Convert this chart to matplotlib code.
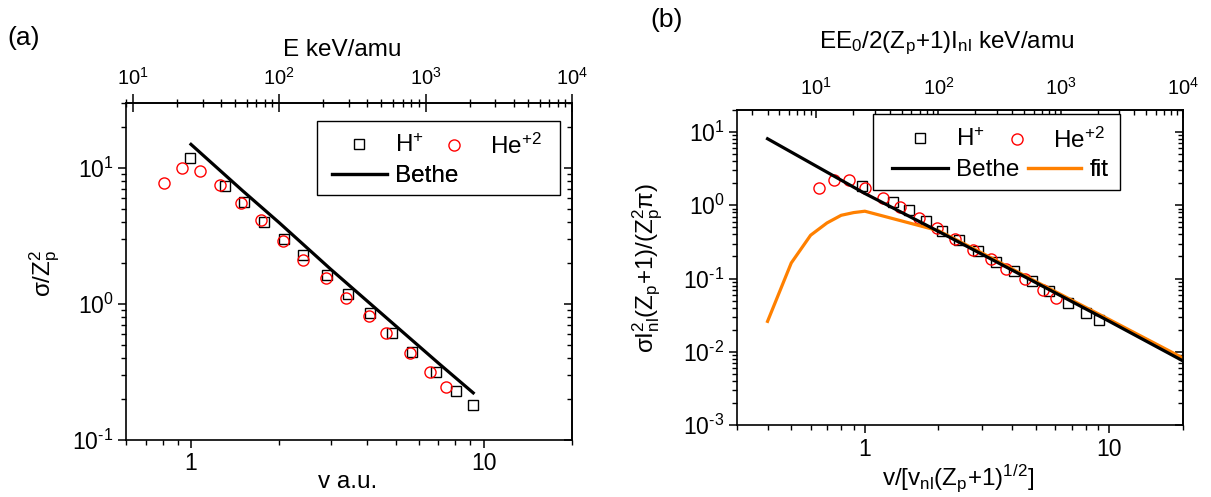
import matplotlib
matplotlib.use('Agg')
import matplotlib.pyplot as plt
import matplotlib.ticker as mt
from matplotlib.patches import Rectangle
import numpy as np

plt.rcParams['font.family'] = ['Liberation Sans', 'DejaVu Sans']
plt.rcParams['mathtext.fontset'] = 'custom'
plt.rcParams['mathtext.rm'] = 'Liberation Sans'
plt.rcParams['mathtext.it'] = 'Liberation Sans'
plt.rcParams['mathtext.bf'] = 'Liberation Sans:bold'
plt.rcParams['mathtext.default'] = 'regular'
plt.rcParams['axes.unicode_minus'] = False

# ---------------- data: panel (a) ----------------
a_h_v = [0.99, 1.31, 1.52, 1.78, 2.07, 2.42, 2.91, 3.44, 4.07, 4.87, 5.70, 6.89, 8.06, 9.15]
a_h_y = [11.9, 7.37, 5.65, 4.03, 2.99, 2.28, 1.63, 1.18, 0.863, 0.609, 0.441, 0.318, 0.229, 0.180]
a_he_v = [0.81, 0.93, 1.07, 1.26, 1.48, 1.73, 2.06, 2.42, 2.89, 3.39, 4.04, 4.64, 5.58, 6.53, 7.45]
a_he_y = [7.8, 9.95, 9.55, 7.5, 5.56, 4.15, 2.91, 2.11, 1.55, 1.11, 0.81, 0.615, 0.434, 0.315, 0.245]
a_bethe_v = [1.0, 1.5, 2.0, 3.0, 5.0, 7.0, 9.2]
a_bethe_y = [14.9, 6.8, 3.96, 1.8, 0.69, 0.367, 0.222]

# ---------------- data: panel (b) ----------------
b_h_x = [0.975, 1.30, 1.51, 1.78, 2.07, 2.42, 2.90, 3.45, 4.06, 4.81, 5.68, 6.80, 8.02, 9.10]
b_h_y = [1.83, 1.11, 0.855, 0.611, 0.447, 0.34, 0.238, 0.169, 0.126, 0.092, 0.0678, 0.047, 0.034, 0.027]
b_he_x = [0.651, 0.745, 0.865, 1.006, 1.186, 1.393, 1.668, 1.966, 2.34, 2.77, 3.29, 3.77, 4.51, 5.37, 6.05]
b_he_y = [1.74, 2.24, 2.19, 1.72, 1.27, 0.948, 0.671, 0.49, 0.351, 0.248, 0.182, 0.137, 0.097, 0.069, 0.055]
b_bethe_x = [0.4, 1.0, 2.0, 5.0, 10.0, 20.0]
b_bethe_y = [8.1, 1.45, 0.44, 0.088, 0.026, 0.0075]
b_fit_x = [0.4, 0.5, 0.6, 0.7, 0.8, 0.9, 1.0, 2.0, 3.0, 5.0, 10.0, 20.0]
b_fit_y = [0.026, 0.163, 0.39, 0.574, 0.73, 0.795, 0.83, 0.45, 0.225, 0.091, 0.0275, 0.0082]

bottom_ticks = [1, 10]
top_ticks = [1e1, 1e2, 1e3, 1e4]

W, H = 1211, 497
fig = plt.figure(figsize=(W / 100, H / 100), dpi=100)


def rect(l, t, r, b):
    return [l / W, 1 - b / H, (r - l) / W, (b - t) / H]


def fwd(v):
    return 25.0 * np.asarray(v) ** 2


def inv(E):
    return np.sqrt(np.clip(np.asarray(E, dtype=float), 1e-12, None) / 25.0)


def ident(y):
    return y


def pow10_fmt(v, pos):
    e = int(round(np.log10(v)))
    if e < 0:
        return r'$\mathregular{10^{\text{-}%d}}$' % (-e)
    return r'$\mathregular{10^{%d}}$' % e


axa = fig.add_axes(rect(126, 103, 572, 440))
axb = fig.add_axes(rect(737, 110, 1183, 425))

FS_TICK = 16.5
FS_TOP = 14.5
FS_LAB = 17.5
FS_LEG = 17.5

for ax in (axa, axb):
    ax.set_xscale('log')
    ax.set_yscale('log')
    for s in ax.spines.values():
        s.set_linewidth(1.2)
    ax.tick_params(which='both', direction='out', top=False, right=False, labelsize=FS_TICK)
    ax.tick_params(which='major', length=6, width=1.1, pad=3)
    ax.tick_params(which='minor', length=3.5, width=1.0)
    ax.xaxis.set_major_locator(mt.FixedLocator(bottom_ticks))
    ax.xaxis.set_major_formatter(mt.FuncFormatter(lambda v, p: f'{v:g}'))
    ax.xaxis.set_minor_locator(mt.LogLocator(base=10, subs=np.arange(2, 10)))
    ax.xaxis.set_minor_formatter(mt.NullFormatter())
    ax.yaxis.set_minor_locator(mt.LogLocator(base=10, subs=np.arange(2, 10), numticks=20))
    ax.yaxis.set_minor_formatter(mt.NullFormatter())
    ax.yaxis.set_major_locator(mt.LogLocator(base=10, numticks=20))
    ax.yaxis.set_major_formatter(mt.FuncFormatter(pow10_fmt))
    sy = ax.secondary_yaxis('right', functions=(ident, ident))
    sy.tick_params(which='both', direction='in', labelright=False, right=True)
    sy.tick_params(which='major', length=6, width=1.1)
    sy.tick_params(which='minor', length=3.5, width=1.0)
    sy.yaxis.set_minor_formatter(mt.NullFormatter())
    sy.spines['right'].set_linewidth(1.2)


def legend_entry(ax, handle, label, x_left, y_center, hl):
    leg = ax.legend(handles=[handle], labels=[label], loc='center left',
                    bbox_to_anchor=(x_left / W, 1 - y_center / H),
                    bbox_transform=fig.transFigure, frameon=False, borderpad=0,
                    borderaxespad=0, handlelength=hl, handletextpad=0.35,
                    fontsize=FS_LEG, numpoints=1)
    ax.add_artist(leg)


def legend_box(ax, l, t, r, b):
    ax.add_patch(Rectangle((l / W, 1 - b / H), (r - l) / W, (b - t) / H,
                           transform=fig.transFigure, facecolor='white',
                           edgecolor='black', lw=1.0, zorder=4.5, clip_on=False))


# ---------------- panel (a) ----------------
axa.set_xlim(0.6, 20)
axa.set_ylim(0.1, 30)
ha, = axa.plot(a_h_v, a_h_y, 's', mfc='none', mec='black', ms=7, mew=1.0)
hea, = axa.plot(a_he_v, a_he_y, 'o', mfc='none', mec='#ff0000', ms=8, mew=1.0)
bea, = axa.plot(a_bethe_v, a_bethe_y, '-', color='black', lw=2.3)

secxa = axa.secondary_xaxis('top', functions=(fwd, inv))
secxa.xaxis.set_major_locator(mt.FixedLocator(top_ticks))
secxa.xaxis.set_major_formatter(mt.FuncFormatter(pow10_fmt))
secxa.xaxis.set_minor_locator(mt.LogLocator(base=10, subs=np.arange(2, 10), numticks=20))
secxa.xaxis.set_minor_formatter(mt.NullFormatter())
secxa.tick_params(which='both', direction='inout', labelsize=FS_TOP)
secxa.tick_params(which='major', length=13, width=1.1, pad=4)
secxa.tick_params(which='minor', length=6, width=1.0)
secxa.spines['top'].set_linewidth(1.2)

legend_box(axa, 317, 121, 560, 195)
legend_entry(axa, ha, 'H$^{+}$', 332, 146, 2.26)
legend_entry(axa, hea, 'He$^{+2}$', 427, 146, 2.26)
legend_entry(axa, bea, 'Bethe', 332, 176, 2.26)

# ---------------- panel (b) ----------------
axb.set_xlim(0.3, 20)
axb.set_ylim(1e-3, 20)
hb, = axb.plot(b_h_x, b_h_y, 's', mfc='none', mec='black', ms=7, mew=1.0)
heb, = axb.plot(b_he_x, b_he_y, 'o', mfc='none', mec='#ff0000', ms=8, mew=1.0)
fitb, = axb.plot(b_fit_x, b_fit_y, '-', color='#ff8000', lw=2.3)
beb, = axb.plot(b_bethe_x, b_bethe_y, '-', color='black', lw=2.3)

secxb = axb.secondary_xaxis('top', functions=(fwd, inv))
secxb.xaxis.set_major_locator(mt.FixedLocator(top_ticks))
secxb.xaxis.set_major_formatter(mt.FuncFormatter(pow10_fmt))
secxb.xaxis.set_minor_locator(mt.LogLocator(base=10, subs=np.arange(2, 10), numticks=20))
secxb.xaxis.set_minor_formatter(mt.NullFormatter())
secxb.tick_params(which='both', direction='in', labelsize=FS_TOP)
secxb.tick_params(which='major', length=6, width=1.1, pad=8)
secxb.tick_params(which='minor', length=3.5, width=1.0)
secxb.spines['top'].set_linewidth(1.2)

legend_box(axb, 873, 114, 1120, 190)
legend_entry(axb, hb, 'H$^{+}$', 892, 140, 2.3)
legend_entry(axb, heb, 'He$^{+2}$', 989, 140, 2.3)
legend_entry(axb, beb, 'Bethe', 892, 170, 2.3)
legend_entry(axb, fitb, 'fit', 1028, 170, 2.2)

# ---------------- texts ----------------
fig.text(24 / W, 1 - 38 / H, '(a)', fontsize=19, ha='center', va='center')
fig.text(667 / W, 1 - 20 / H, '(b)', fontsize=19, ha='center', va='center')
fig.text(342 / W, 1 - 50 / H, 'E keV/amu', fontsize=FS_LAB, ha='center', va='center')
fig.text(947 / W, 1 - 43 / H, r'$EE_0/2(Z_p{+}1)I_{nl}$ keV/amu', fontsize=FS_LAB, ha='center', va='center')
fig.text(348 / W, 1 - 482 / H, 'v a.u.', fontsize=FS_LAB, ha='center', va='center')
fig.text(958 / W, 1 - 478 / H, r'$v/[v_{nl}(Z_p{+}1)^{1/2}]$', fontsize=FS_LAB, ha='center', va='center')
fig.text(45 / W, 1 - 273 / H, r'$σ/Z_p^2$', fontsize=FS_LAB, ha='center', va='center', rotation=90)
fig.text(648 / W, 1 - 268 / H, r'$σI_{nl}^{2}(Z_p{+}1)/(Z_p^{2}π)$', fontsize=FS_LAB, ha='center', va='center', rotation=90)

fig.savefig('out.png', dpi=100)
